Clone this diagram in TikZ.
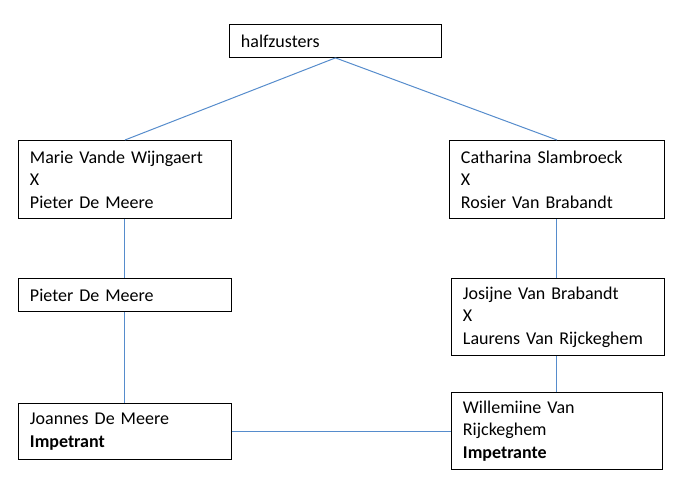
\documentclass[tikz,border=0pt]{standalone}
\usepackage{fontspec}
\setmainfont{Carlito}
\definecolor{linkblue}{RGB}{86,140,204}

\begin{document}
\begin{tikzpicture}[x=1pt, y=-1pt,
	box/.style={draw=black, line width=0.9pt, anchor=north west, align=left,
		inner xsep=11.5pt, inner ysep=0pt, font=\fontsize{18}{22.5}\selectfont},
	link/.style={draw=linkblue, line width=1pt}]
			%%%%% START %%%%%
			
			\useasboundingbox (0, 0) rectangle (682, 486);
			
			\node[box, text width=189, minimum height=33] (halfzusters) at (229, 24) {halfzusters};
			
			\node[box, text width=190, minimum height=78] (marie) at (18, 140) {Marie Vande Wijngaert\\X\\Pieter De Meere};
			\node[box, text width=192, minimum height=78] (catharina) at (449, 140) {Catharina Slambroeck\\X\\Rosier Van Brabandt};
			
			\node[box, text width=190, minimum height=33] (pieter) at (18, 278) {Pieter De Meere};
			\node[box, text width=190, minimum height=77] (josijne) at (451, 278) {Josijne Van Brabandt\\X\\Laurens Van Rijckeghem};
			
			\node[box, text width=190, minimum height=56] (joannes) at (18, 403) {Joannes De Meere\\\textbf{Impetrant}};
			\node[box, text width=188, minimum height=77] (willemiine) at (451, 392) {Willemiine Van\\Rijckeghem\\\textbf{Impetrante}};
			
			\draw[link] (halfzusters.south) -- (marie.north);
			\draw[link] (halfzusters.south) -- (catharina.north);
			
			\draw[link] (marie.south) -- (pieter.north);
			\draw[link] (pieter.south) -- (joannes.north);
			
			\draw[link] (catharina.south) -- (catharina.south |- josijne.north);
			\draw[link] (catharina.south |- josijne.south) -- (catharina.south |- willemiine.north);
			
			\draw[link] (joannes.east) -- (joannes.east -| willemiine.west);
			
			%%%%% END %%%%%
		\end{tikzpicture}
\end{document}
